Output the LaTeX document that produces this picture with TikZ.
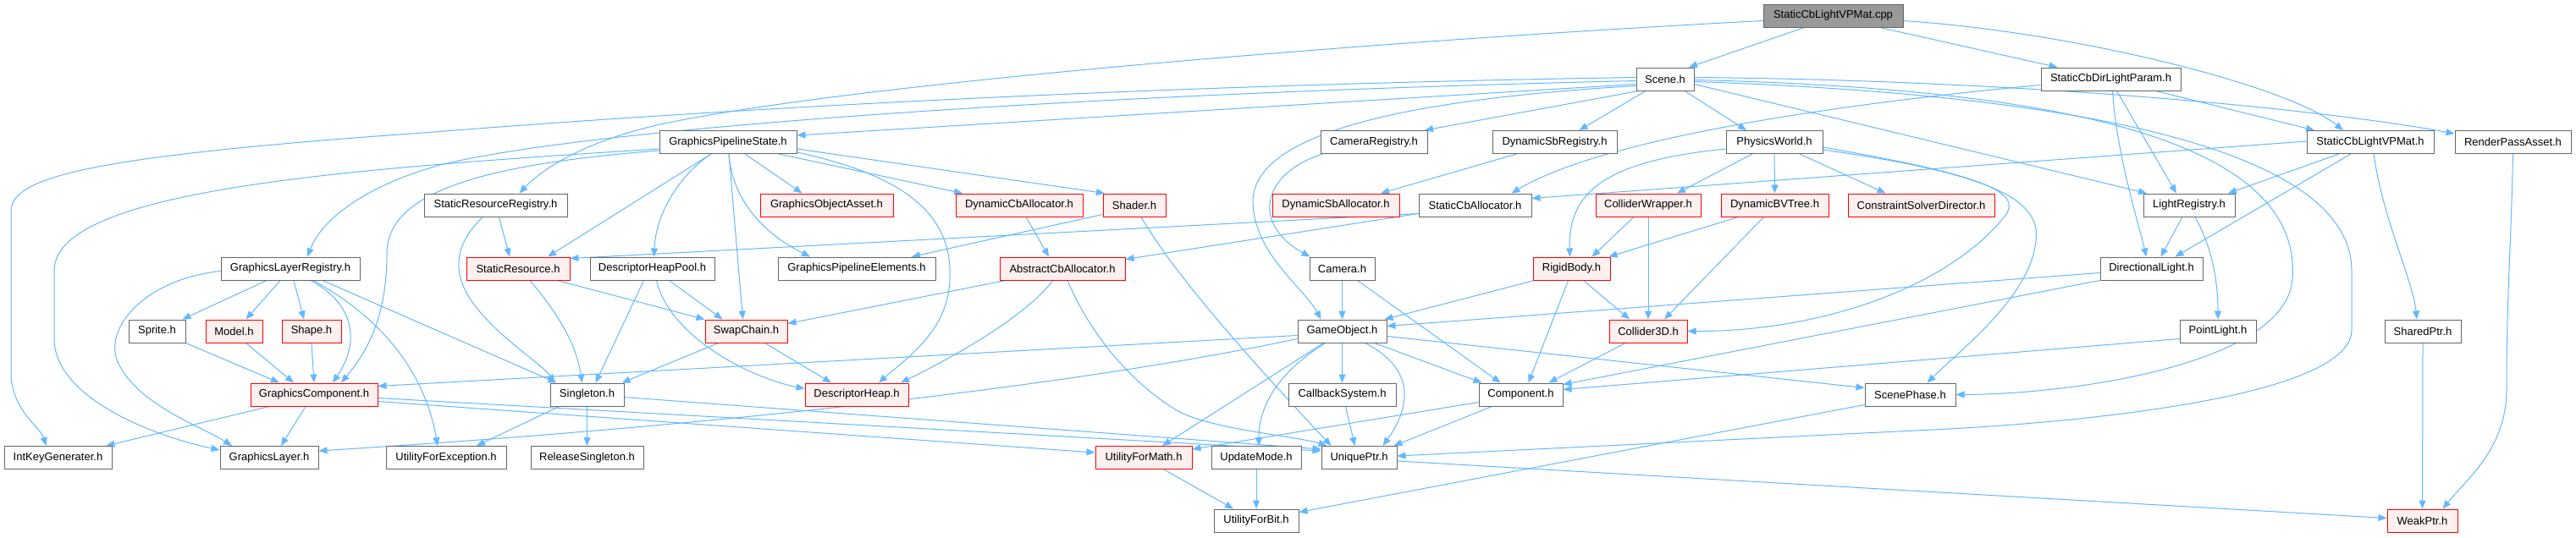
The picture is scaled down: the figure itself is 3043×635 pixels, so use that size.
\documentclass[tikz,border=0pt]{standalone}
\usepackage{fontspec}
\setmainfont{Liberation Sans}
\usetikzlibrary{arrows.meta}
\definecolor{edgec}{HTML}{63B8FF}
\definecolor{redfill}{HTML}{FFF0F0}
\definecolor{borderg}{HTML}{666666}
\definecolor{cppfill}{HTML}{999999}
\pgfdeclarelayer{bg}
\pgfsetlayers{bg,main}
\tikzset{
  base/.style={rectangle, inner sep=0pt, minimum height=27pt, line width=1pt,
    font=\fontsize{13}{15}\selectfont, text=black},
  nb/.style={base, draw=borderg, fill=white},
  nr/.style={base, draw=red, fill=redfill},
  nc/.style={base, draw=borderg, fill=cppfill},
  e/.style={draw=edgec, line width=1pt, -{Triangle[length=10pt,width=8pt]}},
}
\begin{document}
\begin{tikzpicture}[x=1pt,y=-1pt]
\useasboundingbox (0,0) rectangle (3043,635);
\begin{pgfonlayer}{bg}
\fill[white] (0,0) rectangle (3043,635);
\end{pgfonlayer}
% nodes
\node[nc, minimum width=165pt] (cpp) at (2165.5,18.5) {StaticCbLightVPMat.cpp};
\node[nb, minimum width=68pt] (scene) at (1967,93.5) {Scene.h};
\node[nb, minimum width=165pt] (dirp) at (2493.5,93.5) {StaticCbDirLightParam.h};
\node[nb, minimum width=162pt] (gps) at (860,168) {GraphicsPipelineState.h};
\node[nb, minimum width=126pt] (camreg) at (1623,168) {CameraRegistry.h};
\node[nb, minimum width=147pt] (dsbreg) at (1836.5,168) {DynamicSbRegistry.h};
\node[nb, minimum width=114pt] (phys) at (2096,168) {PhysicsWorld.h};
\node[nb, minimum width=150pt] (vph) at (2800,168) {StaticCbLightVPMat.h};
\node[nb, minimum width=137pt] (rpa) at (2968.5,168) {RenderPassAsset.h};
\node[nb, minimum width=169pt] (srr) at (585.5,242.5) {StaticResourceRegistry.h};
\node[nr, minimum width=157pt] (goa) at (976.5,242.5) {GraphicsObjectAsset.h};
\node[nr, minimum width=150pt] (dca) at (1204,242.5) {DynamicCbAllocator.h};
\node[nr, minimum width=74pt] (shader) at (1340,242.5) {Shader.h};
\node[nr, minimum width=150pt] (dsa) at (1578,242.5) {DynamicSbAllocator.h};
\node[nb, minimum width=133pt] (sca) at (1742.5,242.5) {StaticCbAllocator.h};
\node[nr, minimum width=124pt] (cw) at (1947,242.5) {ColliderWrapper.h};
\node[nr, minimum width=127pt] (bvt) at (2096.5,242.5) {DynamicBVTree.h};
\node[nr, minimum width=173pt] (csd) at (2269.5,242.5) {ConstraintSolverDirector.h};
\node[nb, minimum width=108pt] (lreg) at (2586,242.5) {LightRegistry.h};
\node[nb, minimum width=164pt] (glr) at (343,317.5) {GraphicsLayerRegistry.h};
\node[nr, minimum width=122pt] (sres) at (612,317.5) {StaticResource.h};
\node[nb, minimum width=147pt] (dhp) at (770.5,317.5) {DescriptorHeapPool.h};
\node[nb, minimum width=186pt] (gpe) at (1012,317.5) {GraphicsPipelineElements.h};
\node[nr, minimum width=148pt] (aca) at (1255,317.5) {AbstractCbAllocator.h};
\node[nb, minimum width=77pt] (cam) at (1585.5,317.5) {Camera.h};
\node[nr, minimum width=91pt] (rb) at (1856.5,317.5) {RigidBody.h};
\node[nb, minimum width=121pt] (dl) at (2541.5,317.5) {DirectionalLight.h};
\node[nb, minimum width=67pt] (sprite) at (185.5,391.5) {Sprite.h};
\node[nr, minimum width=67pt] (model) at (276.5,391.5) {Model.h};
\node[nr, minimum width=70pt] (shape) at (368,391.5) {Shape.h};
\node[nr, minimum width=97pt] (swap) at (881.5,391.5) {SwapChain.h};
\node[nb, minimum width=105pt] (go) at (1585.5,391.5) {GameObject.h};
\node[nr, minimum width=92pt] (c3d) at (1947,391.5) {Collider3D.h};
\node[nb, minimum width=90pt] (pl) at (2620,391.5) {PointLight.h};
\node[nb, minimum width=90pt] (sp) at (2862,391.5) {SharedPtr.h};
\node[nr, minimum width=150pt] (gc) at (371,466.5) {GraphicsComponent.h};
\node[nb, minimum width=87pt] (single) at (693.5,466.5) {Singleton.h};
\node[nr, minimum width=122pt] (dh) at (1012,466.5) {DescriptorHeap.h};
\node[nb, minimum width=127pt] (cbs) at (1585.5,466.5) {CallbackSystem.h};
\node[nb, minimum width=99pt] (comp) at (1796.5,466.5) {Component.h};
\node[nb, minimum width=107pt] (sph) at (2256.5,466.5) {ScenePhase.h};
\node[nb, minimum width=127pt] (ikg) at (68.5,541) {IntKeyGenerater.h};
\node[nb, minimum width=116pt] (gl) at (318,541) {GraphicsLayer.h};
\node[nb, minimum width=142pt] (ufe) at (527,541) {UtilityForException.h};
\node[nb, minimum width=133pt] (rs) at (693.5,541) {ReleaseSingleton.h};
\node[nr, minimum width=114pt] (ufm) at (1351,541) {UtilityForMath.h};
\node[nb, minimum width=106pt] (um) at (1484,541) {UpdateMode.h};
\node[nb, minimum width=89pt] (up) at (1605.5,541) {UniquePtr.h};
\node[nb, minimum width=100pt] (ufb) at (1484,615.5) {UtilityForBit.h};
\node[nr, minimum width=83pt] (wp) at (2861.5,615.5) {WeakPtr.h};
\begin{pgfonlayer}{bg}
% cpp
\draw[e] ([xshift=-34pt]cpp.south) -- ([xshift=28pt]scene.north);
\draw[e] ([xshift=55pt]cpp.south) -- ([xshift=-63pt]dirp.north);
\draw[e] ([yshift=-6pt]cpp.east) .. controls (2450,38) and (2700,100) .. ([xshift=-32pt]vph.north);
\draw[e] ([yshift=-6pt]cpp.west) .. controls (1600,50) and (1000,100) .. (780,147) .. controls (700,165) and (645,195) .. ([xshift=28pt]srr.north);
% scene
\draw[e] ([yshift=-6pt]scene.west) -- ([yshift=8pt]gps.east);
\draw[e] ([xshift=3pt]scene.south west) -- ([xshift=60pt]camreg.north);
\draw[e] ([xshift=-23pt]scene.south) -- ([xshift=29pt]dsbreg.north);
\draw[e] ([xshift=23pt]scene.south) -- ([xshift=-33pt]phys.north);
\draw[e] ([yshift=2pt]scene.west) .. controls (1400,100) and (900,125) .. (500,157) .. controls (100,185) and (13,210) .. (13,250) -- (13,440) .. controls (13,485) and (48,505) .. ([xshift=-14pt]ikg.north);
\draw[e] ([yshift=-2pt]scene.west) .. controls (1300,110) and (700,150) .. (520,195) .. controls (430,220) and (380,260) .. ([xshift=20pt]glr.north);
\draw[e] ([yshift=-8pt]scene.west) .. controls (1650,118) and (1478,160) .. (1480,240) .. controls (1482,300) and (1540,340) .. ([xshift=-25pt]go.north);
\draw[e] ([yshift=-6pt]scene.east) -- ([xshift=-50pt]lreg.north);
\draw[e] ([yshift=2pt]scene.east) .. controls (2400,95) and (2750,130) .. ([yshift=10pt]rpa.west);
\draw[e] ([yshift=-1pt]scene.east) .. controls (2450,105) and (2720,170) .. (2708,330) .. controls (2700,430) and (2450,466) .. (sph.east);
\draw[e] ([yshift=-3pt]scene.east) .. controls (2550,115) and (2778,200) .. (2778,320) -- (2778,390) .. controls (2778,470) and (2450,500) .. (2283,508) -- ([yshift=2pt]up.east);
% dirp
\draw[e] ([xshift=53pt]dirp.south) -- ([xshift=-66pt]vph.north);
\draw[e] ([xshift=7pt]dirp.south) -- ([xshift=-15pt]lreg.north);
\draw[e] ([xshift=2pt]dirp.south) .. controls (2500,180) and (2525,260) .. ([xshift=-6pt]dl.north);
\draw[e] ([yshift=-7pt]dirp.west) .. controls (2200,120) and (1900,160) .. ([xshift=43pt]sca.north);
% vph
\draw[e] ([yshift=1pt]vph.west) -- ([yshift=8pt]sca.east);
\draw[e] ([xshift=-37pt]vph.south) -- ([xshift=46pt]lreg.north);
\draw[e] ([xshift=-23pt]vph.south) -- ([xshift=28pt]dl.north);
\draw[e] ([xshift=4pt]vph.south) .. controls (2815,260) and (2850,330) .. ([xshift=-7pt]sp.north);
% rpa
\draw[e] (rpa.south) .. controls (2966,300) and (2961,350) .. (2961,460) .. controls (2961,530) and (2915,565) .. ([xshift=24pt]wp.north);
% gps
\draw[e] ([xshift=-20pt]gps.south) -- ([xshift=35pt]sres.north);
\draw[e] ([xshift=-20pt]gps.south) .. controls (805,205) and (775,250) .. ([xshift=2pt]dhp.north);
\draw[e] ([xshift=1pt]gps.south) -- ([xshift=-4pt]swap.north);
\draw[e] ([xshift=1pt]gps.south) .. controls (865,235) and (900,275) .. ([xshift=-55pt]gpe.north);
\draw[e] ([xshift=20pt]gps.south) -- ([xshift=-29pt]goa.north);
\draw[e] ([xshift=60pt]gps.south) -- ([xshift=-67pt]dca.north);
\draw[e] ([yshift=-8pt]gps.east) -- ([xshift=-35pt]shader.north);
\draw[e] ([yshift=-12pt]gps.east) .. controls (1080,210) and (1125,260) .. (1122,330) .. controls (1120,390) and (1075,420) .. ([xshift=26pt]dh.north);
\draw[e] ([yshift=-8pt]gps.west) .. controls (400,200) and (64,225) .. (64,320) -- (64,400) .. controls (64,470) and (180,515) .. ([yshift=9pt]gl.west);
\draw[e] ([yshift=-10pt]gps.west) .. controls (560,195) and (457,230) .. (457,300) .. controls (457,380) and (430,420) .. ([xshift=32pt]gc.north);
% camreg, dsbreg
\draw[e] ([xshift=3pt]camreg.south west) .. controls (1490,205) and (1478,265) .. ([xshift=-38pt]cam.north);
\draw[e] ([xshift=-45pt]dsbreg.south) -- ([xshift=53pt]dsa.north);
% phys
\draw[e] ([yshift=-8pt]phys.west) .. controls (1900,190) and (1852,225) .. ([xshift=-2pt]rb.north);
\draw[e] ([xshift=-26pt]phys.south) -- ([xshift=34pt]cw.north);
\draw[e] (phys.south) -- (bvt.north);
\draw[e] ([xshift=30pt]phys.south) -- ([xshift=-42pt]csd.north);
\draw[e] ([yshift=-6pt]phys.east) .. controls (2330,205) and (2395,225) .. (2367,257) .. controls (2300,340) and (2150,392) .. (c3d.east);
\draw[e] ([yshift=-9pt]phys.east) .. controls (2350,205) and (2412,235) .. (2405,285) .. controls (2398,350) and (2320,410) .. ([xshift=20pt]sph.north);
% srr
\draw[e] ([xshift=4pt]srr.south) -- ([xshift=-10pt]sres.north);
\draw[e] ([xshift=-15pt]srr.south) .. controls (540,285) and (530,320) .. (560,360) .. controls (590,400) and (640,430) .. ([xshift=-38pt]single.north);
% dca, shader, sca
\draw[e] ([xshift=8pt]dca.south) -- ([xshift=-16pt]aca.north);
\draw[e] ([yshift=3pt]shader.south west) -- ([xshift=65pt]gpe.north);
\draw[e] ([xshift=8pt]shader.south) .. controls (1390,330) and (1500,450) .. ([xshift=-33pt]up.north);
\draw[e] ([yshift=4pt]sca.south west) -- ([yshift=12pt]sres.east);
\draw[e] ([yshift=4pt]sca.south west) -- ([yshift=11pt]aca.east);
% cw, bvt
\draw[e] ([xshift=-17pt]cw.south) -- ([xshift=24pt]rb.north);
\draw[e] (cw.south) -- (c3d.north);
\draw[e] ([xshift=-43pt]bvt.south) -- ([xshift=44pt]rb.north);
\draw[e] ([xshift=-13pt]bvt.south) -- ([xshift=19pt]c3d.north);
% lreg
\draw[e] ([xshift=-8pt]lreg.south) -- ([xshift=11pt]dl.north);
\draw[e] ([xshift=7pt]lreg.south) .. controls (2612,290) and (2620,330) .. (pl.north);
% glr
\draw[e] ([xshift=-28pt]glr.south) -- ([xshift=30pt]sprite.north);
\draw[e] ([xshift=-12pt]glr.south) -- ([xshift=14pt]model.north);
\draw[e] ([xshift=4pt]glr.south) -- ([xshift=-9pt]shape.north);
\draw[e] ([xshift=24pt]glr.south) .. controls (420,360) and (425,405) .. ([xshift=22pt]gc.north);
\draw[e] ([xshift=27pt]glr.south) .. controls (440,370) and (500,430) .. ([xshift=-10pt]ufe.north);
\draw[e] ([xshift=38pt]glr.south) -- ([xshift=-36pt]single.north);
\draw[e] ([yshift=-3pt]glr.west) .. controls (170,330) and (120,390) .. (140,430) .. controls (165,480) and (240,505) .. ([xshift=-44pt]gl.north);
% sres, dhp
\draw[e] ([xshift=14pt]sres.south) .. controls (650,360) and (680,400) .. ([xshift=-6pt]single.north);
\draw[e] ([xshift=46pt]sres.south) -- (swap.north west);
\draw[e] ([xshift=-10pt]dhp.south) -- ([xshift=10pt]single.north);
\draw[e] ([xshift=20pt]dhp.south) -- ([xshift=-28pt]swap.north);
\draw[e] ([xshift=5pt]dhp.south) .. controls (790,395) and (880,445) .. ([yshift=7pt]dh.west);
% aca
\draw[e] ([xshift=-67pt]aca.south) -- ([yshift=9pt]swap.east);
\draw[e] ([xshift=-11pt]aca.south) .. controls (1210,375) and (1130,420) .. ([xshift=52pt]dh.north);
\draw[e] ([xshift=6pt]aca.south) .. controls (1290,400) and (1340,455) .. (1390,485) .. controls (1430,508) and (1530,515) .. ([xshift=-38pt]up.north);
% cam, rb, dl
\draw[e] (cam.south) -- (go.north);
\draw[e] ([xshift=18pt]cam.south) -- ([xshift=-24pt]comp.north);
\draw[e] ([xshift=-44pt]rb.south) -- ([xshift=50pt]go.north);
\draw[e] ([xshift=-4pt]rb.south) -- ([xshift=9pt]comp.north);
\draw[e] ([xshift=14pt]rb.south) -- ([xshift=-22pt]c3d.north);
\draw[e] ([yshift=-5pt]dl.west) -- ([yshift=6pt]go.east);
\draw[e] (dl.south west) -- ([yshift=12pt]comp.east);
% small
\draw[e] (sprite.south east) -- ([xshift=-41pt]gc.north);
\draw[e] ([xshift=14pt]model.south) -- ([xshift=-24pt]gc.north);
\draw[e] (shape.south) -- (gc.north);
\draw[e] ([xshift=-33pt]swap.south) -- ([xshift=-3pt]single.north east);
\draw[e] ([xshift=22pt]swap.south) -- ([xshift=-30pt]dh.north);
% go
\draw[e] ([yshift=-5pt]go.west) -- ([yshift=10pt]gc.east);
\draw[e] ([yshift=-9pt]go.west) .. controls (1300,450) and (900,500) .. ([yshift=8pt]gl.east);
\draw[e] ([xshift=-22pt]go.south) -- ([xshift=22pt]ufm.north);
\draw[e] ([xshift=-20pt]go.south) .. controls (1510,440) and (1487,480) .. ([xshift=3pt]um.north);
\draw[e] (go.south) -- (cbs.north);
\draw[e] ([xshift=27pt]go.south) .. controls (1680,440) and (1660,490) .. ([xshift=28pt]up.north);
\draw[e] ([xshift=38pt]go.south) -- ([xshift=-46pt]comp.north);
\draw[e] ([yshift=-6pt]go.east) -- ([yshift=8pt]sph.west);
% c3d, pl, sp
\draw[e] ([xshift=-27pt]c3d.south) -- ([xshift=33pt]comp.north);
\draw[e] ([yshift=-9pt]pl.west) -- ([yshift=6pt]comp.east);
\draw[e] (sp.south) -- (wp.north);
% gc
\draw[e] ([xshift=-53pt]gc.south) -- ([xshift=57pt]ikg.north);
\draw[e] ([xshift=-10pt]gc.south) -- ([xshift=14pt]gl.north);
\draw[e] ([yshift=-4pt]gc.east) -- ([yshift=8pt]up.west);
\draw[e] ([yshift=-8pt]gc.east) -- ([yshift=6pt]ufm.west);
% single
\draw[e] ([xshift=-33pt]single.south) -- ([xshift=36pt]ufe.north);
\draw[e] (single.south) -- (rs.north);
\draw[e] ([yshift=-3pt]single.east) -- ([yshift=10pt]up.west);
% rest
\draw[e] ([xshift=4pt]cbs.south) -- ([xshift=-5pt]up.north);
\draw[e] ([xshift=-34pt]comp.south) -- ([xshift=41pt]up.north);
\draw[e] ([yshift=-9pt]comp.west) -- ([yshift=10pt]ufm.east);
\draw[e] ([yshift=2pt]sph.south west) -- ([yshift=10pt]ufb.east);
\draw[e] ([xshift=24pt]ufm.south) -- ([xshift=-27pt]ufb.north);
\draw[e] (um.south) -- (ufb.north);
\draw[e] ([yshift=-4pt]up.east) -- ([yshift=3pt]wp.west);
\end{pgfonlayer}
\end{tikzpicture}
\end{document}
